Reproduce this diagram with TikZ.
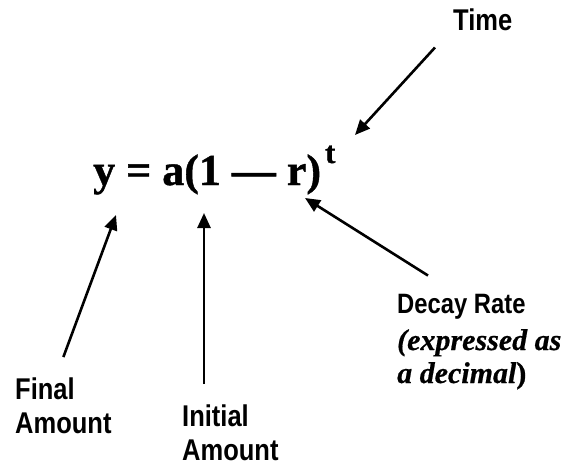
\documentclass[tikz,border=0pt]{standalone}
\usepackage{fontspec}
\setmainfont{Liberation Serif}[BoldFeatures={FakeBold=1}, BoldItalicFeatures={FakeBold=0.6}]
\setsansfont{Liberation Sans}[FakeStretch=0.85]
\usetikzlibrary{arrows.meta,positioning}

\begin{document}
\begin{tikzpicture}[x=1pt, y=-1pt,
        lbl/.style={font=\sffamily\bfseries\fontsize{30}{34}\selectfont, align=left, inner sep=0pt, anchor=base west},
        arr/.style={-{Triangle[length=15pt,width=13pt]}, line width=2.6pt}
    ]
        \useasboundingbox (0,0) rectangle (571,466);
        % the formula
        \node[inner sep=0pt, anchor=base west, font=\bfseries\fontsize{44}{44}\selectfont] (eq) at (93,185)
            {y = a(1 --- r)\hspace{4pt}\raisebox{22pt}{\fontsize{31}{31}\selectfont t}};
        % labels (base = last line)
        \node[lbl] (time) at (453,30) {Time};
        \node[lbl] (final) at (15,433) {Final\\Amount};
        \node[lbl] (initial) at (182,460) {Initial\\Amount};
        \node[lbl, font=\bfseries\itshape\fontsize{30}{33}\selectfont] (decay) at (397,383)
            {{\sffamily\upshape\fontsize{28}{33}\selectfont Decay Rate}\\[4pt]
             (expressed as\\a decimal\textup{)}};
        % where the arrows point
        \coordinate (ypt) at (116,215);
        \coordinate (apt) at (204,213);
        \coordinate (rpt) at (305,198);
        \coordinate (tpt) at (355,135);
        \draw[arr] ([yshift=20pt]final.north) -- (ypt);
        \draw[arr] ([xshift=22pt,yshift=20pt]initial.north west) -- (apt);
        \draw[arr] ([xshift=31pt,yshift=18pt]decay.north west) -- (rpt);
        \draw[arr] ([xshift=-18pt,yshift=-17pt]time.south west) -- (tpt);
    \end{tikzpicture}
\end{document}
